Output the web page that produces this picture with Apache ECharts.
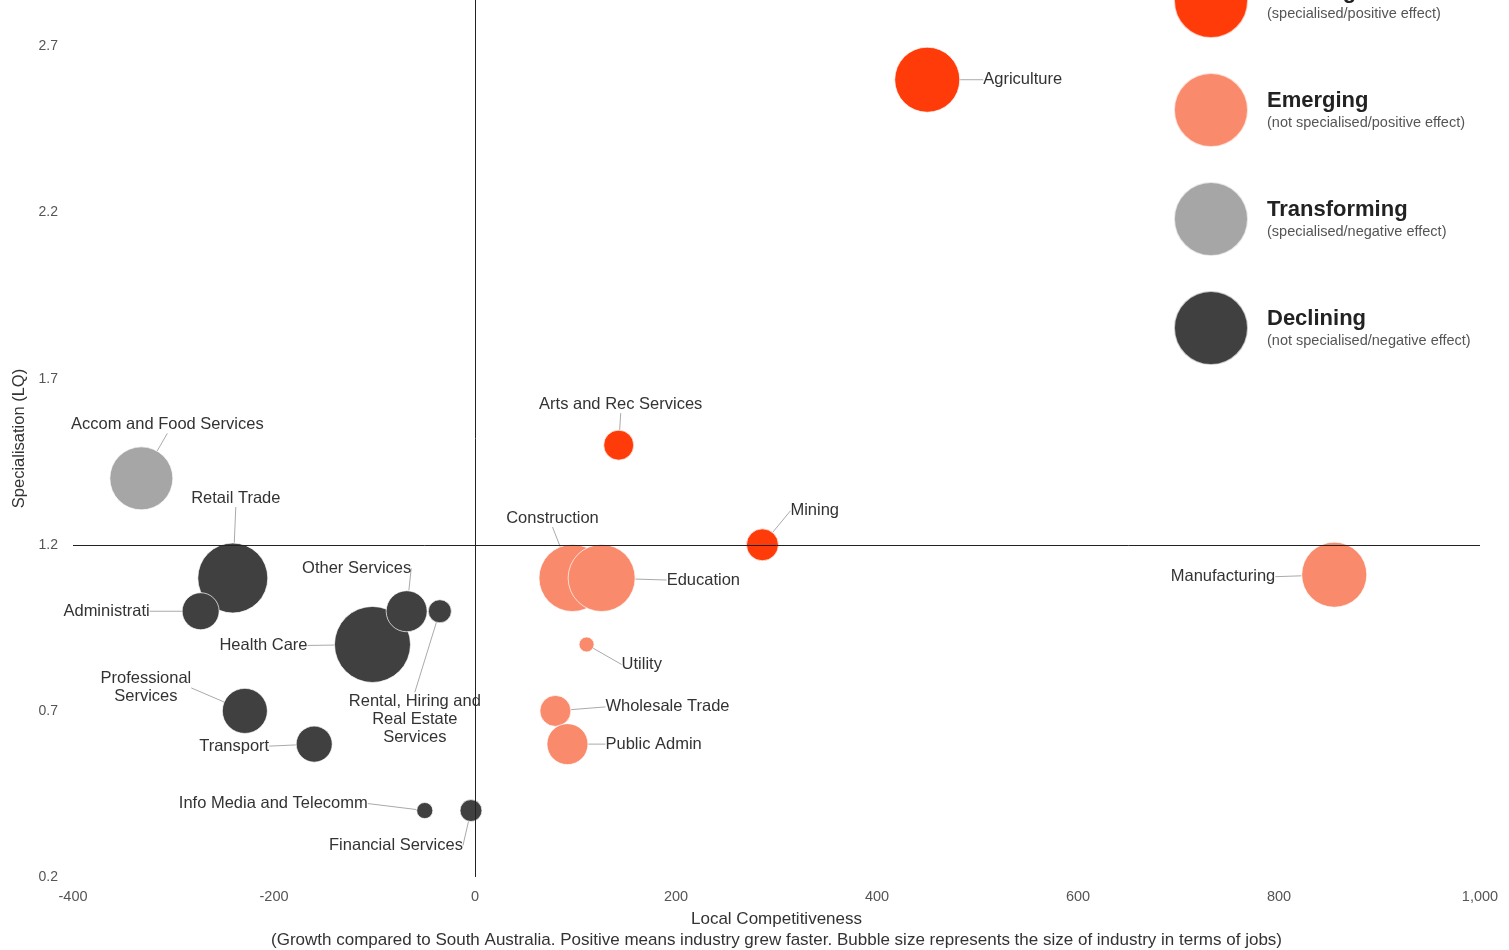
<!DOCTYPE html>
<html>
<head>
<meta charset="utf-8">
<title>Industry bubble chart</title>
<script src="https://cdn.jsdelivr.net/npm/echarts@6/dist/echarts.min.js"></script>
<style>
  html, body { margin: 0; padding: 0; background: #fff; overflow: hidden; }
  #chart { width: 1509px; height: 950px; }
</style>
</head>
<body>
<div id="chart"></div>
<script>
// ---- Data ----
const industries = [
  'Agriculture', 'Arts and Rec Services', 'Mining',
  'Construction', 'Education', 'Manufacturing', 'Utility', 'Wholesale Trade', 'Public Admin',
  'Accom and Food Services',
  'Retail Trade', 'Administrati', 'Health Care', 'Other Services',
  'Rental, Hiring and\nReal Estate\nServices', 'Professional\nServices', 'Transport',
  'Info Media and Telecomm', 'Financial Services'
];
const competitiveness = [450, 143, 286, 97, 126, 855, 111, 80, 92, -332, -241, -273, -102, -68, -35, -229, -160, -50, -4];
const specialisation  = [2.60, 1.50, 1.20, 1.10, 1.10, 1.11, 0.90, 0.70, 0.60, 1.40, 1.10, 1.00, 0.90, 1.00, 1.00, 0.70, 0.60, 0.40, 0.40];
const jobs            = [4230, 900, 1020, 4490, 4490, 4230, 225, 960, 1680, 3970, 4900, 1370, 5780, 1680, 530, 2030, 1300, 260, 480];
const quadrant = [
  'Growing', 'Growing', 'Growing',
  'Emerging', 'Emerging', 'Emerging', 'Emerging', 'Emerging', 'Emerging',
  'Transforming',
  'Declining', 'Declining', 'Declining', 'Declining', 'Declining', 'Declining', 'Declining', 'Declining', 'Declining'
];
const quadrantNames = ['Growing', 'Emerging', 'Transforming', 'Declining'];
const quadrantNotes = [
  '(specialised/positive effect)',
  '(not specialised/positive effect)',
  '(specialised/negative effect)',
  '(not specialised/negative effect)'
];
const xThreshold = 0;
const yThreshold = 1.2;

// ---- Styles ----
const FONT = 'Liberation Sans, Arial, sans-serif';
const quadrantColors = ['#ff3b0a', '#f98a6c', '#a6a6a6', '#404040'];
// label placement relative to bubble centre: [dx, dy, align]
const labelPlacement = {
  'Agriculture': [56, 0, 'left'],
  'Arts and Rec Services': [2, -41, 'center'],
  'Mining': [28, -34, 'left'],
  'Construction': [-20, -60, 'center'],
  'Education': [65, 2, 'left'],
  'Manufacturing': [-59, 2, 'right'],
  'Utility': [35, 20, 'left'],
  'Wholesale Trade': [50, -4, 'left'],
  'Public Admin': [38, 0, 'left'],
  'Accom and Food Services': [26, -54, 'center'],
  'Retail Trade': [3, -80, 'center'],
  'Administrati': [-51, 0, 'right'],
  'Health Care': [-65, 1, 'right'],
  'Other Services': [-50, -43, 'center'],
  'Rental, Hiring and\nReal Estate\nServices': [-25, 108, 'center'],
  'Professional\nServices': [-99, -23, 'center'],
  'Transport': [-45, 2, 'right'],
  'Info Media and Telecomm': [-57, -7, 'right'],
  'Financial Services': [-75, 35, 'center']
};

const seriesData = quadrantNames.map(q => []);
industries.forEach((name, i) => {
  const qi = quadrantNames.indexOf(quadrant[i]);
  seriesData[qi].push([competitiveness[i], specialisation[i], jobs[i], name]);
});

const series = quadrantNames.map((q, qi) => ({
  name: q,
  type: 'scatter',
  z: 3,
  data: seriesData[qi],
  symbolSize: v => Math.sqrt(v[2]),
  itemStyle: { color: quadrantColors[qi], opacity: 1, borderColor: 'rgba(255,255,255,0.7)', borderWidth: 1 },
  emphasis: { disabled: true },
  label: {
    show: true,
    formatter: p => p.data[3],
    color: '#333',
    fontSize: 16.5,
    lineHeight: 18,
    fontFamily: FONT
  },
  labelLine: { show: true, lineStyle: { color: '#aaa', width: 1 } },
  labelLayout: function (params) {
    const sd = seriesData[params.seriesIndex];
    if (!sd || !sd[params.dataIndex]) return {};
    const name = sd[params.dataIndex][3];
    const pl = labelPlacement[name] || [0, 0, 'center'];
    const cx = params.rect.x + params.rect.width / 2;
    const cy = params.rect.y + params.rect.height / 2;
    return { x: cx + pl[0], y: cy + pl[1], align: pl[2], verticalAlign: 'middle' };
  }
}));

// quadrant divider lines (behind bubbles)
series.push({
  name: 'dividers',
  type: 'scatter',
  z: 1,
  data: [],
  markLine: {
    silent: true,
    symbol: 'none',
    label: { show: false },
    lineStyle: { color: '#222', width: 1, type: 'solid' },
    data: [{ xAxis: xThreshold }, { yAxis: yThreshold }]
  }
});

const el = document.getElementById('chart');
const chart = echarts.init(el);
chart.setOption({
  animation: false,
  backgroundColor: '#fff',
  textStyle: { fontFamily: FONT },
  grid: { left: 73, right: 29, top: 0, bottom: 73, containLabel: false, outerBoundsMode: 'none' },
  legend: {
    data: quadrantNames,
    orient: 'vertical',
    left: 1173,
    top: -37,
    padding: 0,
    icon: 'circle',
    itemWidth: 74,
    itemHeight: 74,
    itemGap: 33,
    selectedMode: false,
    formatter: name => {
      const i = quadrantNames.indexOf(name);
      return '{a|' + name + '}\n{b|' + quadrantNotes[i] + '}';
    },
    textStyle: {
      rich: {
        a: { fontSize: 22, fontWeight: 'bold', color: '#222', lineHeight: 26, padding: [0, 0, 0, 14], fontFamily: FONT },
        b: { fontSize: 14.5, color: '#555', lineHeight: 18, padding: [0, 0, 0, 14], fontFamily: FONT }
      }
    }
  },
  xAxis: {
    type: 'value',
    min: -400,
    max: 1000,
    interval: 200,
    name: 'Local Competitiveness\n(Growth compared to South Australia. Positive means industry grew faster. Bubble size represents the size of industry in terms of jobs)',
    nameLocation: 'middle',
    nameGap: 31,
    nameTextStyle: { fontSize: 17, color: '#333', lineHeight: 21 },
    axisLine: { show: false },
    axisTick: { show: false },
    splitLine: { show: false },
    axisLabel: { fontSize: 14.5, color: '#555', margin: 12 }
  },
  yAxis: {
    type: 'value',
    min: 0.2,
    max: 2.84,
    interval: 0.5,
    name: 'Specialisation (LQ)',
    nameLocation: 'middle',
    nameGap: 38,
    nameTextStyle: { fontSize: 16.5, color: '#333' },
    axisLine: { show: false },
    axisTick: { show: false },
    splitLine: { show: false },
    axisLabel: { fontSize: 14, color: '#555', margin: 15, showMaxLabel: false, formatter: v => v.toFixed(1) }
  },
  series: series
});
</script>
</body>
</html>
